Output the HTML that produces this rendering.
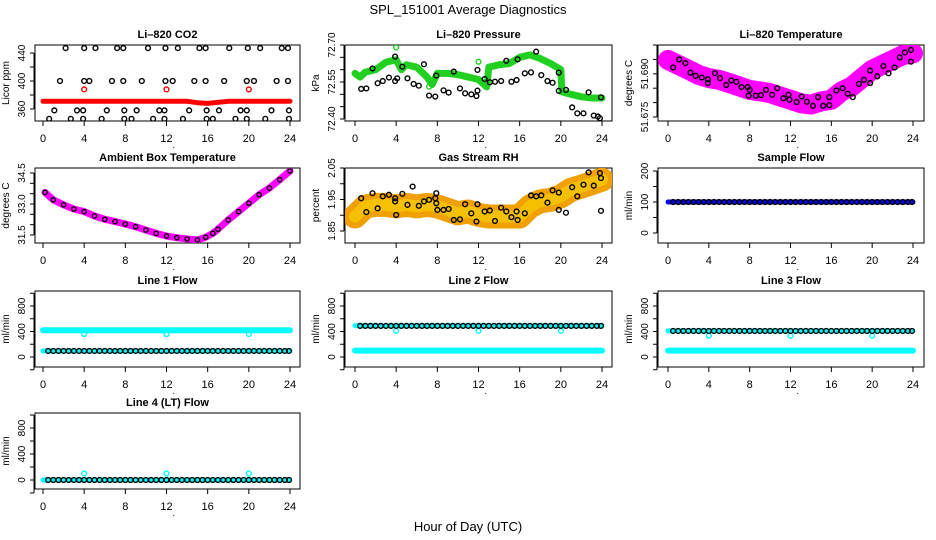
<!DOCTYPE html>
<html><head><meta charset="utf-8">
<style>
body{margin:0;background:#fff;}
svg{display:block;font-family:"Liberation Sans",sans-serif;}
</style></head>
<body>
<svg id="chart" width="936" height="540" viewBox="0 0 936 540" xmlns="http://www.w3.org/2000/svg">
<rect width="936" height="540" fill="#fff"/>
<text x="468" y="14" text-anchor="middle" font-size="13">SPL_151001  Average Diagnostics</text>
<text x="468" y="531" text-anchor="middle" font-size="13">Hour of Day (UTC)</text>
</svg>
<script>
// ---------- data ----------
const xTicks = [0,4,8,12,16,20,24];
// CO2
const co2BandH = [0,2,4,6,8,10,12,14,15,16,18,20,22,24];
const co2BandV = [371,371,371,371,371,371,371,371,369,368,371,371,371,371];
const co2RedH = [4,12,20];
const co2RedV = [388,388,388];
const co2BlkH = [2.2,4.0,5.1,7.2,7.8,10.2,11.9,13.1,15.2,15.8,18.1,19.9,21.1,23.2,23.8,
 1.65,4.0,4.5,6.7,7.8,9.6,11.9,12.6,14.7,15.8,17.6,19.8,20.5,22.7,23.8,
 1.1,3.3,3.9,6.2,7.9,9.1,11.3,11.8,14.2,15.9,17.1,19.2,19.8,22.2,23.9,
 0.6,2.7,3.9,5.7,7.9,8.6,10.7,11.8,13.6,15.9,16.5,18.7,19.8,21.6,23.9];
const co2BlkV = [447,447,447,447,447,447,447,447,447,447,447,447,447,447,447,
 400,400,400,400,400,400,400,400,400,400,400,400,400,400,400,
 358,358,358,358,358,358,358,358,358,358,358,358,358,358,358,
 346,346,346,346,346,346,346,346,346,346,346,346,346,346,346];
// Pressure
const prGreenH = [0,0.5,1,2,3,4,4.5,5,6,7,7.5,8,9,10,11,12,12.8,13,14,15,16,17,18,19,20,20.1,21,22,23,24];
const prGreenV = [72.585,72.57,72.59,72.60,72.63,72.64,72.60,72.62,72.61,72.57,72.54,72.585,72.585,72.58,72.57,72.56,72.53,72.61,72.62,72.625,72.65,72.66,72.645,72.625,72.60,72.51,72.50,72.49,72.485,72.485];
const prGreenPtH = [4,12,7.2];
const prGreenPtV = [72.69,72.632,72.531];
const prBlkH = [0.6,1.1,1.7,2.2,2.7,3.3,3.9,3.9,4.1,4.6,5.1,5.7,6.2,6.7,7.2,7.8,7.9,8.6,9.1,9.6,10.2,10.7,11.3,11.8,11.9,11.9,12.6,13.1,13.6,14.2,14.7,15.2,15.7,15.8,16.5,17.1,17.6,18.1,18.7,19.2,19.8,19.8,20.5,21.1,21.6,22.2,22.7,23.2,23.6,23.8,23.9];
const prBlkV = [72.522,72.524,72.605,72.545,72.554,72.568,72.554,72.653,72.565,72.612,72.565,72.542,72.535,72.622,72.495,72.491,72.576,72.516,72.507,72.592,72.524,72.504,72.500,72.493,72.515,72.599,72.562,72.549,72.551,72.554,72.636,72.551,72.558,72.642,72.585,72.589,72.673,72.578,72.554,72.547,72.514,72.588,72.518,72.447,72.423,72.423,72.508,72.414,72.410,72.403,72.488];
// Li-820 temperature
const ltBandH = [0,1,2,3,4,5,6,7,8,9,10,11,12,13,14,15,16,17,18,19,20,21,22,23,24];
const ltBandV = [51.6948,51.6931,51.6914,51.6896,51.6885,51.6879,51.6868,51.6856,51.6844,51.6839,51.6833,51.6821,51.6810,51.6798,51.6793,51.6804,51.6810,51.6839,51.6856,51.6885,51.6914,51.6931,51.6948,51.6965,51.6971];
const ltBlkH = [0.5,1.1,1.7,2.2,2.7,3.3,3.9,3.9,4.6,5.1,5.7,6.2,6.7,7.2,7.8,7.9,8.0,8.6,9.1,9.6,10.2,10.7,11.3,11.8,11.9,12.6,13.1,13.6,14.2,14.7,15.2,15.8,15.8,16.5,17.1,17.6,18.1,18.7,19.2,19.8,19.8,20.5,21.1,21.6,22.2,22.7,23.2,23.8,23.8];
const ltBlkV = [51.6922,51.6950,51.6937,51.6904,51.6893,51.6887,51.6881,51.6868,51.6902,51.6885,51.6861,51.6877,51.6872,51.6854,51.6854,51.6824,51.6844,51.6824,51.6826,51.6844,51.6827,51.6850,51.6815,51.6827,51.6810,51.6802,51.6821,51.6803,51.6789,51.6819,51.6789,51.6819,51.6791,51.6842,51.6850,51.6831,51.6819,51.6865,51.6879,51.6911,51.6868,51.6891,51.6927,51.6902,51.6922,51.6957,51.6974,51.6983,51.6942];
// Ambient box temperature
const abH = [0.2,1,2,3,4,5,6,7,8,9,10,11,12,13,14,15,15.8,16.5,17,18,19,20,21,22,23,24];
const abV = [33.56,33.2,32.96,32.76,32.63,32.42,32.26,32.15,32.03,31.9,31.74,31.58,31.45,31.37,31.31,31.26,31.39,31.58,31.78,32.23,32.63,33.04,33.45,33.77,34.18,34.6];
// RH
const rhBandH = [0,1,2,3,4,5,6,7,8,9,10,11,12,13,14,15,16,17,18,19,20,21,22,23,24];
const rhBandV = [1.896,1.928,1.933,1.933,1.928,1.933,1.928,1.933,1.928,1.917,1.906,1.912,1.901,1.896,1.896,1.896,1.896,1.928,1.944,1.949,1.960,1.981,1.991,2.002,2.013];
const rhBlkH = [0.6,1.1,1.7,2.2,2.7,3.3,3.9,3.9,4.0,4.6,5.1,5.6,6.2,6.7,7.2,7.8,7.9,7.9,8.0,8.6,9.1,9.6,10.2,10.7,11.3,11.8,11.9,12.6,13.1,13.6,14.2,14.7,15.2,15.7,15.8,16.5,17.1,17.6,18.1,18.7,19.2,19.8,19.8,20.5,21.1,21.6,22.2,22.7,23.2,23.8,23.9,23.9];
const rhBlkV = [1.954,1.910,1.970,1.922,1.960,1.965,1.954,1.944,1.901,1.968,1.933,1.991,1.930,1.944,1.949,1.954,1.970,1.938,1.917,1.917,1.920,1.885,1.887,1.935,1.906,1.880,1.935,1.912,1.915,1.882,1.924,1.912,1.894,1.912,1.885,1.906,1.963,1.960,1.963,1.940,1.979,1.917,1.972,1.908,1.989,1.960,1.997,2.036,1.994,2.034,2.018,1.914];
// Flows
const flowH = [0.5,1,1.5,2,2.5,3,3.5,4,4.5,5,5.5,6,6.5,7,7.5,8,8.5,9,9.5,10,10.5,11,11.5,12,12.5,13,13.5,14,14.5,15,15.5,16,16.5,17,17.5,18,18.5,19,19.5,20,20.5,21,21.5,22,22.5,23,23.5,23.9];
const bandH = [0,24];
const dipH = [4,12,20];
const sampleV = [100,100];
const sampleBlk = 100;
const l1Cyan = [420,420]; const l1Low = [95,95]; const l1Blk = 95; const l1Dip = [360,360,360];
const l2Cyan = [490,490]; const l2Low = [100,100]; const l2Blk = 488; const l2Dip = [410,410,410];
const l3Cyan = [410,410]; const l3Low = [100,100]; const l3Blk = 408; const l3Dip = [335,335,335];
const l4Cyan = [0,0]; const l4Blk = 0; const l4Dip = [100,100,100];

// ---------- helpers ----------
const NS = "http://www.w3.org/2000/svg";
const svg = document.getElementById('chart');
function mk(tag, attrs, parent){const e=document.createElementNS(NS,tag);for(const k in attrs)e.setAttribute(k,attrs[k]);(parent||svg).appendChild(e);return e;}

function panel(p){
  const g = mk('g',{});
  
  
  const xs = h => p.hx0 + (p.hx1-p.hx0)*h/24;
  const ys = v => p.py1 + (p.py2-p.py1)*(v-p.v1)/(p.v2-p.v1);
  p.xs=xs; p.ys=ys; p.g=g;
  const t = mk('text',{x:(p.x0+p.x1)/2,y:p.y0-7,'text-anchor':'middle','font-size':11,'font-weight':'bold'},g);
  t.textContent=p.title;
  
  
  const box = mk('rect',{x:p.x0,y:p.y0,width:p.x1-p.x0,height:p.y1-p.y0,fill:'none',stroke:'#000','stroke-width':1},g);
  
  
  // x axis
  const xa = mk('g',{},g);
  
  
  xTicks.forEach(v=>{
    mk('line',{x1:xs(v),x2:xs(v),y1:p.y1,y2:p.y1+5,stroke:'#000'},xa);
    const l=mk('text',{x:xs(v),y:p.y1+21,'text-anchor':'middle','font-size':11},xa);
    l.textContent=v;
    
    
  });
  const dot=mk('text',{x:xs(12)+6,y:p.y1+27,'font-size':9},xa); dot.textContent='.';
  // y axis
  const ya = mk('g',{},g);
  
  
  const ax = p.x0-1;
  mk('line',{x1:ax,x2:ax,y1:ys(p.yt[0]),y2:ys(p.yt[p.yt.length-1]),stroke:'#000'},ya);
  p.yt.forEach((v,i)=>{
    mk('line',{x1:ax-4,x2:ax,y1:ys(v),y2:ys(v),stroke:'#000'},ya);
    if(p.yl[i]!==''){
      const l=mk('text',{x:0,y:0,'text-anchor':'middle','font-size':10,transform:`translate(${p.x0-10},${ys(v)}) rotate(-90)`},ya);
      l.textContent=p.yl[i];
      
      
    }
  });
  const yt=mk('text',{x:0,y:0,'text-anchor':'middle','font-size':10,transform:`translate(${p.x0-26},${(p.y0+p.y1)/2}) rotate(-90)`},ya);
  yt.textContent=p.ylab;
  
  
  // clip
  const cid='c'+p.name;
  const cp=mk('clipPath',{id:cid},g); mk('rect',{x:p.x0,y:p.y0,width:p.x1-p.x0,height:p.y1-p.y0},cp);
  p.plot=mk('g',{'clip-path':`url(#${cid})`},g);
  return p;
}
function band(p,H,V,color,w,name){
  const pl=mk('polyline',{points:H.map((h,i)=>p.xs(h)+','+p.ys(V[i])).join(' '),fill:'none',stroke:color,'stroke-width':w,'stroke-linejoin':'round','stroke-linecap':'round'},p.plot);
  
  
}
function pts(p,H,V,color,name,r,sw){
  const g=mk('g',{},p.plot);
  
  
  H.forEach((h,i)=>{
    const c=mk('circle',{cx:p.xs(h),cy:p.ys(V[i]),r:r||2.4,fill:'none',stroke:color,'stroke-width':sw||1.4},g);
    
    
  });
}
function pconst(p,H,v,color,name){ pts(p,H,H.map(()=>v),color,name); }

const C1={x0:35,x1:300,hx0:43,hx1:290}, C2={x0:345,x1:612,hx0:355,hx1:602}, C3={x0:658,x1:924,hx0:668,hx1:913};
const R1={y0:45,y1:121},R2={y0:168,y1:243},R3={y0:291,y1:367},R4={y0:413,y1:489};
const flowT=[-200,0,200,400,600,800,1000], flowL=['','0','','400','','800',''];

// CO2
let p=panel(Object.assign({name:'co2-panel',title:'Li–820 CO2',ylab:'Licor ppm',v1:360,py1:109,v2:440,py2:53,yt:[360,380,400,420,440],yl:['360','','400','','440']},C1,R1));
band(p,co2BandH,co2BandV,'#ff0000',5,'co2-red-band');
pts(p,co2RedH,co2RedV,'#ff0000','co2-red-points');
pts(p,co2BlkH,co2BlkV,'#000','co2-black-points');
// Pressure
p=panel(Object.assign({name:'pressure-panel',title:'Li–820 Pressure',ylab:'kPa',v1:72.70,py1:45,v2:72.40,py2:119,yt:[72.70,72.65,72.60,72.55,72.50,72.45,72.40],yl:['72.70','','','72.55','','','72.40']},C2,R1));
band(p,prGreenH,prGreenV,'#22d022',7,'pressure-green-band');
pts(p,prGreenPtH,prGreenPtV,'#22d022','pressure-green-points');
pts(p,prBlkH,prBlkV,'#000','pressure-black-points');
// Li temp
p=panel(Object.assign({name:'li820-temp-panel',title:'Li–820 Temperature',ylab:'degrees C',v1:51.700,py1:45,v2:51.675,py2:117,yt:[51.700,51.695,51.690,51.685,51.680,51.675],yl:['','','51.690','','','51.675']},C3,R1));
band(p,ltBandH,ltBandV,'#ff00ff',20,'li820-temp-magenta-cloud');
pts(p,ltBlkH,ltBlkV,'#000','li820-temp-black-points');
// Ambient
p=panel(Object.assign({name:'ambient-temp-panel',title:'Ambient Box Temperature',ylab:'degrees C',v1:34.5,py1:173,v2:31.5,py2:235,yt:[34.5,34,33.5,33,32.5,32,31.5],yl:['34.5','','','33.0','','','31.5']},C1,R2));
band(p,abH,abV,'#ff00ff',7,'ambient-magenta-band');
pts(p,abH,abV,'#000','ambient-black-points',2.2,1.3);
// RH
p=panel(Object.assign({name:'rh-panel',title:'Gas Stream RH',ylab:'percent',v1:2.05,py1:168,v2:1.85,py2:231,yt:[2.05,2.00,1.95,1.90,1.85],yl:['2.05','','1.95','','1.85']},C2,R2));
band(p,rhBandH,rhBandV,'#f0a000',24,'rh-orange-cloud');
band(p,rhBandH,rhBandV,'#f4c000',12,'rh-yellow-core');
pts(p,rhBlkH,rhBlkV,'#000','rh-black-points');
// Sample flow
p=panel(Object.assign({name:'sample-flow-panel',title:'Sample Flow',ylab:'ml/min',v1:200,py1:171,v2:0,py2:233,yt:[0,50,100,150,200],yl:['0','','100','','200']},C3,R2));
band(p,bandH,sampleV,'#0000ff',5,'sample-blue-band');
pconst(p,flowH,sampleBlk,'#000','sample-black-points');
// Line 1
p=panel(Object.assign({name:'line1-flow-panel',title:'Line 1 Flow',ylab:'ml/min',v1:0,py1:357,v2:800,py2:306,yt:flowT,yl:flowL},C1,R3));
band(p,bandH,l1Cyan,'#00ffff',6,'line1-cyan-band');
band(p,bandH,l1Low,'#00ffff',5,'line1-cyan-low-band');
pts(p,dipH,l1Dip,'#00ffff','line1-cyan-dips');
pconst(p,flowH,l1Blk,'#000','line1-black-points');
// Line 2
p=panel(Object.assign({name:'line2-flow-panel',title:'Line 2 Flow',ylab:'ml/min',v1:0,py1:357,v2:800,py2:306,yt:flowT,yl:flowL},C2,R3));
band(p,bandH,l2Cyan,'#00ffff',5,'line2-cyan-band');
band(p,bandH,l2Low,'#00ffff',6,'line2-cyan-low-band');
pts(p,dipH,l2Dip,'#00ffff','line2-cyan-dips');
pconst(p,flowH,l2Blk,'#000','line2-black-points');
// Line 3
p=panel(Object.assign({name:'line3-flow-panel',title:'Line 3 Flow',ylab:'ml/min',v1:0,py1:357,v2:800,py2:306,yt:flowT,yl:flowL},C3,R3));
band(p,bandH,l3Cyan,'#00ffff',5,'line3-cyan-band');
band(p,bandH,l3Low,'#00ffff',6,'line3-cyan-low-band');
pts(p,dipH,l3Dip,'#00ffff','line3-cyan-dips');
pconst(p,flowH,l3Blk,'#000','line3-black-points');
// Line 4
p=panel(Object.assign({name:'line4-flow-panel',title:'Line 4 (LT) Flow',ylab:'ml/min',v1:0,py1:480,v2:800,py2:428,yt:flowT,yl:flowL},C1,R4));
band(p,bandH,l4Cyan,'#00ffff',5,'line4-cyan-band');
pts(p,dipH,l4Dip,'#00ffff','line4-cyan-dips');
pconst(p,flowH,l4Blk,'#000','line4-black-points');
</script>
</body></html>
